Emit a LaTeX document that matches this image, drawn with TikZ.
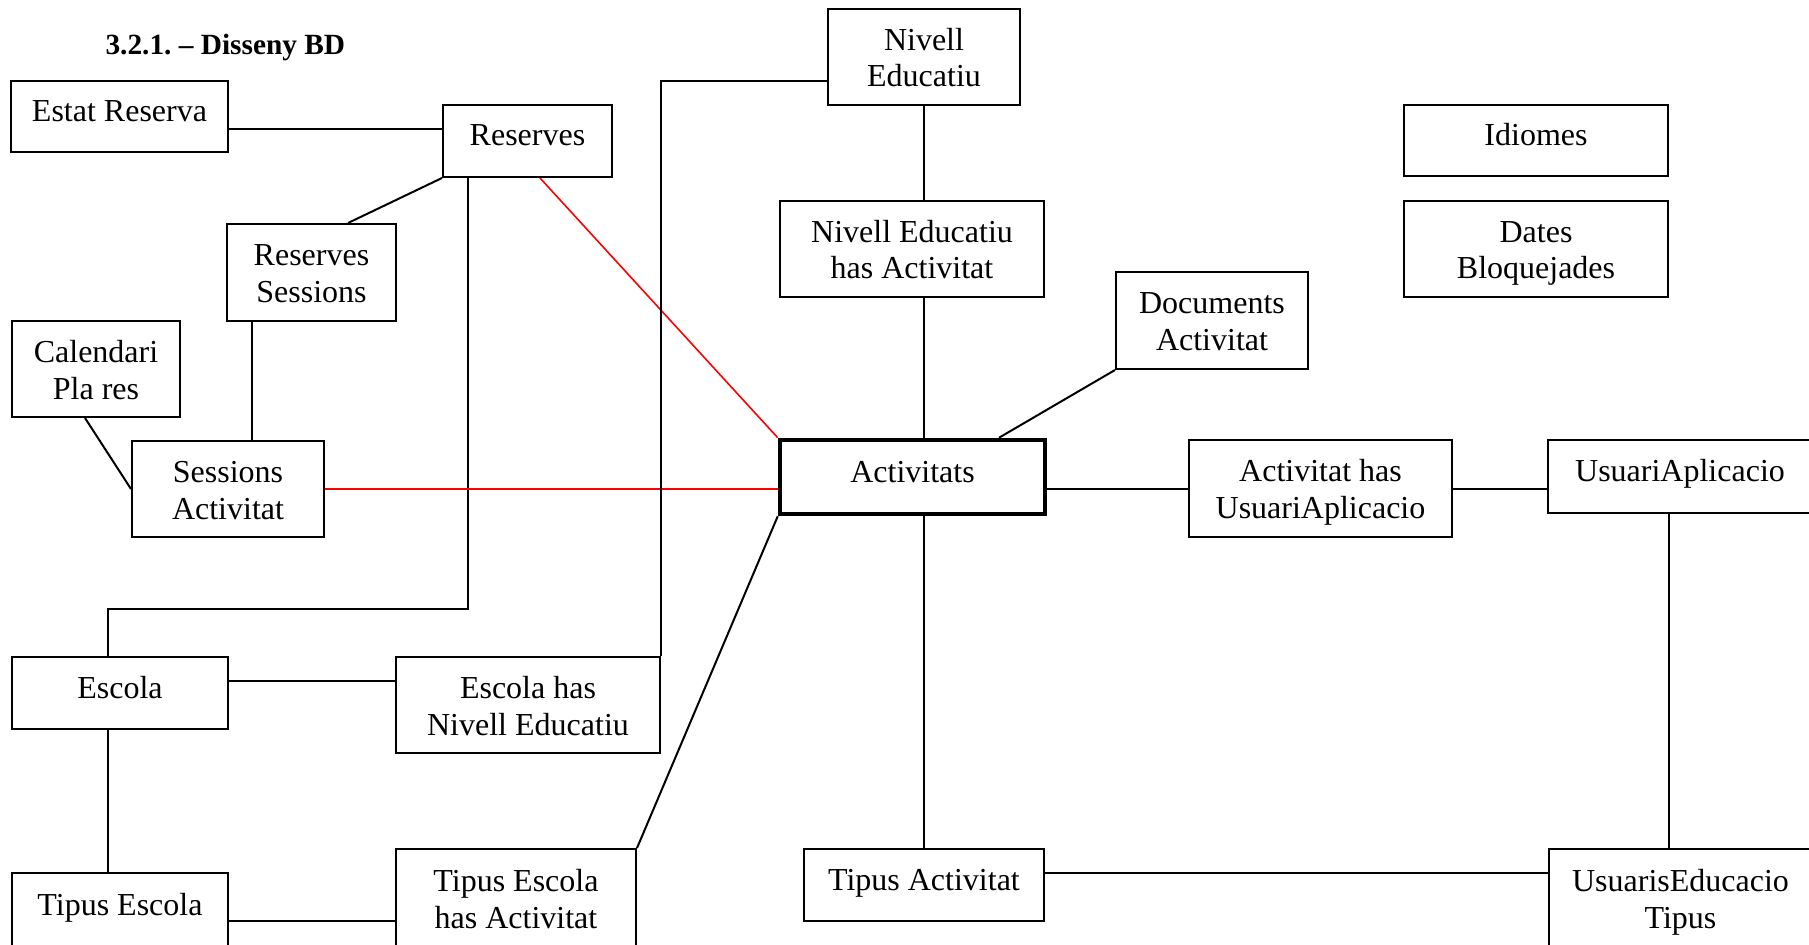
\documentclass[tikz,border=0pt]{standalone}
\usepackage{fontspec}
\setmainfont{Liberation Serif}
\frenchspacing
\tikzset{
  taula/.style={draw, line width=0.75pt, inner sep=0pt, align=center,
    font=\fontsize{12}{13.875}\selectfont},
  una/.style 2 args={taula, minimum width=#1*0.375pt, minimum height=#2*0.375pt,
    text height=8pt, text depth=4.25pt},
  dues/.style 2 args={taula, minimum width=#1*0.375pt, minimum height=#2*0.375pt,
    text height=26.5pt, text depth=4pt},
  enllac/.style={line width=0.75pt},
  vermell/.style={red, line width=0.6pt}
}
\begin{document}
\begin{tikzpicture}[x=0.375pt,y=-0.375pt]
	\useasboundingbox (0,0) rectangle (1809,945);
	\fill[white] (0,0) rectangle (1809,945);
	\clip (0,0) rectangle (1809,945);
	% titol
	\node[font=\fontsize{11}{13}\selectfont\bfseries, anchor=base west, inner sep=0pt] (titol) at (105,55) {3.2.1. – Disseny BD};
	% taules
	\node[una={217}{71}] (estat) at (119.5,116.5) {Estat Reserva};
	\node[una={169}{72}] (reserves) at (527.5,141) {Reserves};
	\node[dues={169}{97}] (ressess) at (311.5,272.5) {Reserves\\Sessions};
	\node[dues={168}{96}] (calendari) at (96,369) {Calendari\\Pla res};
	\node[dues={192}{96}] (sessact) at (228,489) {Sessions\\Activitat};
	\node[una={216}{72}] (escola) at (120,693) {Escola};
	\node[dues={264}{96}] (escne) at (528,705) {Escola has\\Nivell Educatiu};
	\node[una={216}{74}] (tipesc) at (120,910) {Tipus Escola};
	\node[dues={240}{98}] (tipescact) at (516,898) {Tipus Escola\\has Activitat};
	\node[dues={192}{96}] (nivell) at (924,57) {Nivell\\Educatiu};
	\node[dues={264}{96}] (nivellact) at (912,249) {Nivell Educatiu\\has Activitat};
	\node[dues={192}{97}] (docs) at (1212,320.5) {Documents\\Activitat};
	\node[una={265}{74}, line width=1.7pt] (activitats) at (912.5,477) {Activitats};
	\node[dues={263}{97}] (actusu) at (1320.5,488.5) {Activitat has\\UsuariAplicacio};
	\node[una={264}{73}] (usuari) at (1680,476.5) {UsuariAplicacio};
	\node[una={264}{71}] (idiomes) at (1536,140.5) {Idiomes};
	\node[dues={264}{96}] (dates) at (1536,249) {Dates\\Bloquejades};
	\node[una={240}{72}] (tipact) at (924,885) {Tipus Activitat};
	\node[dues={263}{98}] (usueduc) at (1680.5,898) {UsuarisEducacio\\Tipus};
	% relacions
	\draw[enllac] (estat.east |- 0,129) -- (reserves.west |- 0,129);
	\draw[enllac] (reserves.south west) -- (ressess.north -| 348,0);
	\draw[enllac] (reserves.south -| 468,0) -- (468,609) -| (escola.north -| 108,0);
	\draw[vermell] (reserves.south -| 540,0) -- (activitats.north west);
	\draw[enllac] (ressess.south -| 252,0) -- (sessact.north -| 252,0);
	\draw[enllac] (calendari.south -| 85,0) -- (sessact.west);
	\draw[vermell] (sessact.east) -- (sessact.east -| activitats.west);
	\draw[enllac] (escola.east |- 0,681) -- (escne.west |- 0,681);
	\draw[enllac] (escne.north east) |- (nivell.west |- 0,81);
	\draw[enllac] (escola.south -| 108,0) -- (tipesc.north -| 108,0);
	\draw[enllac] (tipesc.east |- 0,921) -- (tipescact.west |- 0,921);
	\draw[enllac] (tipescact.north east) -- (activitats.south west);
	\draw[enllac] (nivell.south) -- (nivellact.north -| nivell.south);
	\draw[enllac] (nivellact.south -| nivell.south) -- (activitats.north -| nivell.south);
	\draw[enllac] (docs.south west) -- (activitats.north -| 999,0);
	\draw[enllac] (activitats.east |- actusu.west) -- (actusu.west);
	\draw[enllac] (actusu.east) -- (usuari.west |- actusu.east);
	\draw[enllac] (activitats.south -| tipact.north) -- (tipact.north);
	\draw[enllac] (tipact.east |- 0,873) -- (usueduc.west |- 0,873);
	\draw[enllac] (usuari.south -| 1669,0) -- (usueduc.north -| 1669,0);
\end{tikzpicture}
\end{document}
